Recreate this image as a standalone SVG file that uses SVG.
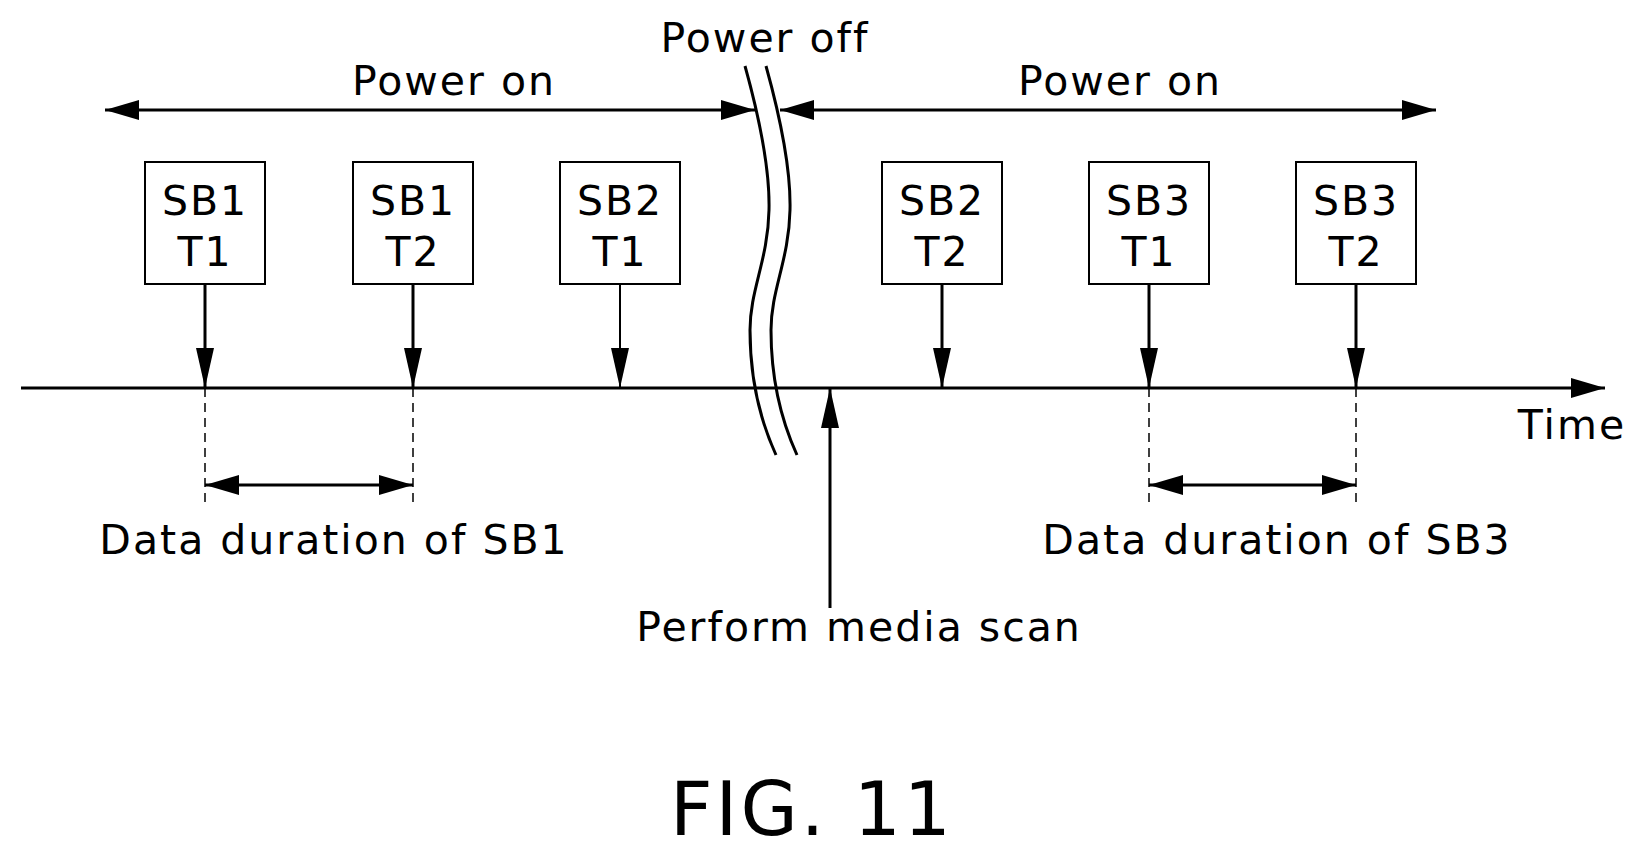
<svg xmlns="http://www.w3.org/2000/svg" width="1639" height="855" viewBox="0 0 1639 855">
<defs>
<marker id="b" markerWidth="40" markerHeight="18" refX="40" refY="9" orient="auto-start-reverse" markerUnits="userSpaceOnUse"><path d="M0,0 L40,9 L0,18 z" fill="#000"/></marker>
<marker id="c" markerWidth="34" markerHeight="20" refX="34" refY="10" orient="auto-start-reverse" markerUnits="userSpaceOnUse"><path d="M0,0 L34,10 L0,20 z" fill="#000"/></marker>
<style>
text{font-family:"DejaVu Sans","Liberation Sans",sans-serif;font-size:41px;text-anchor:middle;fill:#000;letter-spacing:2px}
.l{stroke:#000;stroke-width:3;fill:none}
.d{stroke:#000;stroke-width:1.5;stroke-dasharray:9,6;fill:none}
rect{fill:#fff;stroke:#000;stroke-width:2}
</style>
</defs>
<rect x="0" y="0" width="1639" height="855" style="stroke:none"/>
<g id="labels">
<text x="454" y="95">Power on</text>
<text x="1120" y="95">Power on</text>
<text x="765" y="52">Power off</text>
<text x="1572" y="439">Time</text>
<text x="334" y="554">Data duration of SB1</text>
<text x="1277" y="554">Data duration of SB3</text>
<text x="859" y="641">Perform media scan</text>
<text x="812" y="835" style="font-size:74px;letter-spacing:3px">FIG. 11</text>
</g>
<g id="n1"><rect x="145" y="162" width="120" height="122"/><text x="205" y="215">SB1</text><text x="205" y="266">T1</text></g>
<g id="n2"><rect x="353" y="162" width="120" height="122"/><text x="413" y="215">SB1</text><text x="413" y="266">T2</text></g>
<g id="n3"><rect x="560" y="162" width="120" height="122"/><text x="620" y="215">SB2</text><text x="620" y="266">T1</text></g>
<g id="n4"><rect x="882" y="162" width="120" height="122"/><text x="942" y="215">SB2</text><text x="942" y="266">T2</text></g>
<g id="n5"><rect x="1089" y="162" width="120" height="122"/><text x="1149" y="215">SB3</text><text x="1149" y="266">T1</text></g>
<g id="n6"><rect x="1296" y="162" width="120" height="122"/><text x="1356" y="215">SB3</text><text x="1356" y="266">T2</text></g>
<g id="connectors">
<line class="l" x1="21" y1="388" x2="1605" y2="388" marker-end="url(#c)"/>
<line class="l" x1="105" y1="110" x2="755" y2="110" marker-start="url(#c)" marker-end="url(#c)"/>
<line class="l" x1="780" y1="110" x2="1436" y2="110" marker-start="url(#c)" marker-end="url(#c)"/>
<path class="l" d="M745,66 C760,120 770,170 769,210 C768,260 750,290 750,330 C750,380 760,420 776,455"/>
<path class="l" d="M766,66 C781,120 791,170 790,210 C789,260 771,290 771,330 C771,380 781,420 797,455"/>
<line class="l" x1="205" y1="284" x2="205" y2="388" marker-end="url(#b)"/>
<line class="l" x1="413" y1="284" x2="413" y2="388" marker-end="url(#b)"/>
<line class="l" x1="620" y1="284" x2="620" y2="388" marker-end="url(#b)" style="stroke-width:2"/>
<line class="l" x1="942" y1="284" x2="942" y2="388" marker-end="url(#b)"/>
<line class="l" x1="1149" y1="284" x2="1149" y2="388" marker-end="url(#b)"/>
<line class="l" x1="1356" y1="284" x2="1356" y2="388" marker-end="url(#b)"/>
<line class="l" x1="830" y1="608" x2="830" y2="388" marker-end="url(#b)"/>
<line class="d" x1="205" y1="388" x2="205" y2="508"/>
<line class="d" x1="413" y1="388" x2="413" y2="508"/>
<line class="d" x1="1149" y1="388" x2="1149" y2="508"/>
<line class="d" x1="1356" y1="388" x2="1356" y2="508"/>
<line class="l" x1="205" y1="485" x2="413" y2="485" marker-start="url(#c)" marker-end="url(#c)"/>
<line class="l" x1="1149" y1="485" x2="1356" y2="485" marker-start="url(#c)" marker-end="url(#c)"/>
</g>
</svg>
